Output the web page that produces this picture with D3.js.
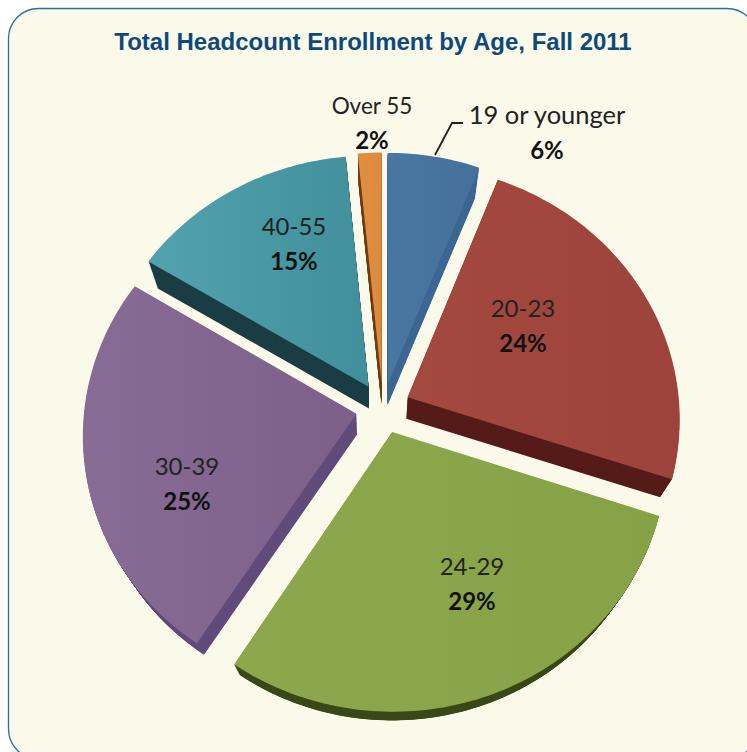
<!DOCTYPE html>
<meta charset="utf-8">
<title>Total Headcount Enrollment by Age, Fall 2011</title>
<style>
  html, body { margin: 0; padding: 0; background: #fff; }
  svg { display: block; }
</style>
<body>
<div id="viz"></div>
<script src="https://cdnjs.cloudflare.com/ajax/libs/d3/7.8.5/d3.min.js"></script>
<script>

var width = 747;
var height = 752;

// values
const ages = ["19 or younger", "20-23", "24-29", "30-39", "40-55", "Over 55"];
const percentLabels = ["6%", "24%", "29%", "25%", "15%", "2%"];
const shares = [5.94, 24.2, 28.9, 24.7, 14.7, 1.53]; // slice sizes as measured, labels are rounded
const topColors = ["#44709b", "#9c433c", "#86a247", "#7d6089", "#408f9b", "#dc8a3f"];
const topColorsLight = ["#4a77a2", "#a4493f", "#8da84c", "#876c96", "#52a3ad", "#e0903f"];
const wallColors = ["#3c6793", "#561c19", "#3a4a19", "#624c7c", "#1b3e45", "#6e3f14"];

const cx = 383, cy = 408;      // where the pie centre lands on the page
const R = 272, squash = 0.93;  // radius and tilt of the top face
const tilt = 0.081;            // perspective: near edge is drawn bigger
const explode = 0.1;           // how far each slice is pulled out, in radii
// the lower face is the upper one shrunk towards this point
const vanishX = 375, vanishY = 930, shrink = 0.04, layers = 30;

var svg = d3.select("#viz").append("svg")
    .attr("width", width)
    .attr("height", height);

var defs = svg.append("defs");

// card
svg.append("rect")
    .attr("x", 8.5).attr("y", 8.5)
    .attr("width", 748.5).attr("height", 750.5)
    .attr("rx", 30).attr("ry", 30)
    .attr("fill", "#fbf9e9")
    .attr("stroke", "#2a6ea6")
    .attr("stroke-width", 1.3);

svg.append("text")
    .attr("x", 373).attr("y", 50)
    .attr("text-anchor", "middle")
    .attr("font-family", "Liberation Sans")
    .attr("font-weight", "bold")
    .attr("font-size", 24)
    .attr("fill", "#0d4a7c")
    .text("Total Headcount Enrollment by Age, Fall 2011");

var pie = d3.pie().sort(null).value(d => d);
var arcs = pie(shares);
var outline = d3.line();

// plane coordinates (u right, v towards the viewer) to page
function project(u, v) {
  var w = 1 - tilt * v;
  return [cx + R * u / w, cy + R * squash * v / w];
}

function slicePoints(d) {
  var mid = (d.startAngle + d.endAngle) / 2;
  var ou = explode * Math.sin(mid), ov = -explode * Math.cos(mid);
  var n = Math.max(2, Math.ceil((d.endAngle - d.startAngle) / 0.02));
  var pts = [project(ou, ov)];
  d3.range(n + 1).forEach(function(j) {
    var a = d.startAngle + (d.endAngle - d.startAngle) * j / n;
    pts.push(project(ou + Math.sin(a), ov - Math.cos(a)));
  });
  return pts;
}

topColors.forEach(function(c, i) {
  var g = defs.append("linearGradient").attr("id", "face" + i);
  g.append("stop").attr("offset", "0%").attr("stop-color", topColorsLight[i]);
  g.append("stop").attr("offset", "100%").attr("stop-color", c);
});

var slices = svg.selectAll("g.slice")
    .data(arcs)
  .enter().append("g")
    .attr("class", "slice");

// extrude by stacking copies of the face, bottom first
slices.each(function(d, i) {
  var s = d3.select(this);
  var pathD = outline(slicePoints(d)) + "Z";
  d3.range(layers, 0, -1).forEach(function(l) {
    var k = 1 - shrink * l / layers;
    s.append("path")
      .attr("d", pathD)
      .attr("fill", wallColors[i])
      .attr("transform",
        "translate(" + vanishX + "," + vanishY + ") scale(" + k + ") translate(" + (-vanishX) + "," + (-vanishY) + ")");
  });
  s.append("path")
    .attr("d", pathD)
    .attr("fill", "url(#face" + i + ")");
});

// labels
const labelX = [547, 523, 472, 187, 294, 372];
const labelY = [124, 317, 575, 475, 235, 114];
const labelSize = [25.5, 24, 24, 24, 24, 22.5];
const labelFont = "Lato";

ages.forEach(function(a, i) {
  var t = svg.append("g").attr("text-anchor", "middle").attr("font-family", labelFont);
  t.append("text")
    .attr("x", labelX[i]).attr("y", labelY[i])
    .attr("font-size", labelSize[i])
    .attr("fill", "#222")
    .text(a);
  t.append("text")
    .attr("x", labelX[i]).attr("y", labelY[i] + 35)
    .attr("font-size", 24)
    .attr("font-weight", "bold")
    .attr("fill", "#111")
    .text(percentLabels[i]);
});

// leader line for the first slice
svg.append("path")
    .attr("d", d3.line()([[435, 155], [452, 123], [463, 123]]))
    .attr("fill", "none")
    .attr("stroke", "#222")
    .attr("stroke-width", 1.8);

</script>
</body>
